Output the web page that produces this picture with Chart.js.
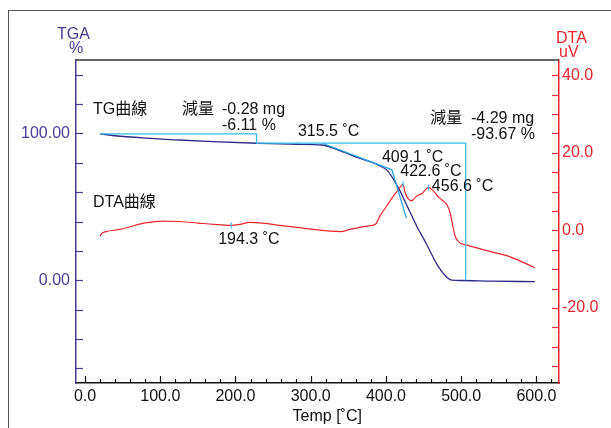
<!DOCTYPE html>
<html>
<head>
<meta charset="utf-8">
<script src="https://cdn.jsdelivr.net/npm/chart.js@4.4.0/dist/chart.umd.min.js"></script>
<style>
    html, body { margin: 0; padding: 0; background: #fff; }
    #wrap { width: 611px; height: 428px; }
</style>
</head>
<body>
<div id="wrap"><canvas id="chart" width="611" height="428"></canvas></div>
<script>
// --- DATA ---
const tgTemp = [20, 40, 80, 125, 170, 228, 280, 315, 330, 345, 365, 380, 392, 400, 406, 412, 419, 430, 441, 454, 467, 478, 488, 500, 540, 598];
const tgPct  = [99.7, 98.4, 96.8, 95.5, 94.4, 93.3, 92.6, 92.1, 89.9, 87.0, 83.1, 80.6, 77.8, 75.5, 72.0, 67.0, 60.5, 48.5, 36.8, 24.5, 11.5, 3.6, 0.0, -0.2, -0.6, -1.0];

const dtaTemp = [20, 22, 28, 46, 82, 104, 126, 150, 171, 193, 206, 219, 240, 259, 285, 304, 326, 340, 352, 375, 386, 392, 401, 410, 417, 422.6, 425.5, 434, 441, 448, 456.6, 463, 468, 474, 481, 485.5, 488, 492, 497, 508, 538, 565, 598];
const dtaUv   = [-1.5, -0.8, -0.3, 0.25, 2.0, 2.4, 2.3, 1.9, 1.55, 1.3, 1.55, 2.1, 1.8, 1.3, 0.7, 0.26, -0.2, -0.3, 0.26, 1.1, 1.6, 3.7, 6.3, 8.9, 10.6, 11.9, 9.7, 7.6, 8.9, 9.5, 11.1, 10.2, 9.0, 7.9, 6.6, 4.4, 2.0, -1.5, -3.0, -3.8, -5.4, -6.8, -9.6];

// weight loss steps and onset tangents (TGA axis)
const stepTemp = [20, 228, 228, 506, 506];
const stepPct  = [99.7, 99.7, 93.4, 93.4, 0];
const tangentTemp = [315.5, 408, 427];
const tangentPct  = [93.3, 75.2, 42.5];

// DTA peak markers
const peakTemp = [194.3, 422.6, 456.6];
const peakUv   = [1.3, 11.9, 11.1];

// ticks
const xTickValues = [0, 20, 40, 60, 80, 100, 120, 140, 160, 180, 200, 220, 240, 260, 280, 300, 320, 340, 360, 380, 400, 420, 440, 460, 480, 500, 520, 540, 560, 580, 600, 620];
const xLabelValues = [0, 100, 200, 300, 400, 500, 600];
const xLabels = ['0.0', '100.0', '200.0', '300.0', '400.0', '500.0', '600.0'];
const tgaTickValues = [-60, -40, -20, 0, 20, 40, 60, 80, 100, 120, 140];
const tgaLabelValues = [0, 100];
const tgaLabels = ['0.00', '100.00'];
const dtaTickValues = [-35, -30, -25, -20, -15, -10, -5, 0, 5, 10, 15, 20, 25, 30, 35, 40];
const dtaLabelValues = [-20, 0, 20, 40];
const dtaLabels = ['-20.0', '0.0', '20.0', '40.0'];

// text annotations (placed in temperature / TGA coordinates)
const noteText = ['TG曲線', '減量', '-0.28 mg', '-6.11 %', '315.5 ˚C', '減量', '-4.29 mg', '-93.67 %', '409.1 ˚C', '422.6 ˚C', '456.6 ˚C', 'DTA曲線', '194.3 ˚C'];
const noteTemp = [10.6, 129, 182, 182, 283, 459, 513, 513, 394.7, 419, 461, 10.6, 177];
const notePct  = [116, 116, 116, 105, 101.4, 109.9, 109.9, 99, 83.3, 73.8, 63.5, 52.6, 27.4];

// --- STYLE ---
const FONT = "'Liberation Sans', Arial, 'Noto Sans CJK TC', sans-serif";
const FONT_SIZE = 16;
const PURPLE = '#4b3c93';
const NAVY = '#2f2a88';
const RED = '#e8262e';
const CYAN = '#3bbced';
const BLUE = '#2aa3e6';

const toPoints = (xs, ys) => xs.map((x, i) => ({ x, y: ys[i] }));

function setTicks(values) {
    return scale => { scale.ticks = values.map(v => ({ value: v })); };
}

function labelFor(values, labels) {
    return v => {
        const i = values.indexOf(v);
        return i >= 0 ? labels[i] : '';
    };
}

const decor = {
    id: 'decor',
    afterDraw(chart) {
        const ctx = chart.ctx;
        const area = chart.chartArea;
        const x = chart.scales.x, y = chart.scales.y, y2 = chart.scales.y2;
        ctx.save();

        // outer frame (cut off by the picture)
        ctx.strokeStyle = '#555';
        ctx.lineWidth = 1;
        ctx.strokeRect(8.5, 10.5, 700, 500);

        // top border of plot
        ctx.strokeStyle = '#333';
        ctx.lineWidth = 1.5;
        ctx.beginPath();
        ctx.moveTo(area.left, area.top);
        ctx.lineTo(area.right, area.top);
        ctx.stroke();

        // inward tick marks
        ctx.lineWidth = 1.2;
        ctx.strokeStyle = '#111';
        x.ticks.forEach(t => {
            const px = Math.round(x.getPixelForValue(t.value)) + 0.5;
            const len = t.value % 100 === 0 ? 7 : 4;
            ctx.beginPath();
            ctx.moveTo(px, area.bottom);
            ctx.lineTo(px, area.bottom - len);
            ctx.stroke();
        });
        ctx.strokeStyle = PURPLE;
        y.ticks.forEach(t => {
            const py = Math.round(y.getPixelForValue(t.value)) + 0.5;
            ctx.beginPath();
            ctx.moveTo(area.left, py);
            ctx.lineTo(area.left + 7, py);
            ctx.stroke();
        });
        ctx.strokeStyle = RED;
        y2.ticks.forEach(t => {
            const py = Math.round(y2.getPixelForValue(t.value)) + 0.5;
            ctx.beginPath();
            ctx.moveTo(area.right, py);
            ctx.lineTo(area.right - 7, py);
            ctx.stroke();
        });

        // DTA peak markers
        ctx.strokeStyle = CYAN;
        ctx.lineWidth = 1.2;
        peakTemp.forEach((t, i) => {
            const px = x.getPixelForValue(t);
            const py = y2.getPixelForValue(peakUv[i]);
            ctx.beginPath();
            ctx.moveTo(px, py - 3);
            ctx.lineTo(px, py + 3);
            ctx.stroke();
        });

        // axis titles
        ctx.font = FONT_SIZE + 'px ' + FONT;
        ctx.textBaseline = 'middle';
        ctx.textAlign = 'center';
        ctx.fillStyle = PURPLE;
        ctx.fillText('TGA', area.left - 2.5, 35);
        ctx.fillText('%', area.left, 49);
        ctx.fillStyle = RED;
        ctx.textAlign = 'left';
        ctx.fillText('DTA', area.right - 3, 38.5);
        ctx.fillText('uV', area.right, 52.5);
        ctx.fillStyle = '#111';
        ctx.textAlign = 'center';
        ctx.fillText('Temp [˚C]', x.getPixelForValue(322), 417);

        // annotations
        ctx.textAlign = 'left';
        noteText.forEach((s, i) => {
            ctx.fillText(s, x.getPixelForValue(noteTemp[i]), y.getPixelForValue(notePct[i]));
        });

        ctx.restore();
    }
};

new Chart(document.getElementById('chart'), {
    type: 'line',
    data: {
        datasets: [
            { data: toPoints(stepTemp, stepPct), yAxisID: 'y', borderColor: CYAN, borderWidth: 1.3, tension: 0 },
            { data: toPoints(tangentTemp, tangentPct), yAxisID: 'y', borderColor: BLUE, borderWidth: 1.3, tension: 0 },
            { data: toPoints(dtaTemp, dtaUv), yAxisID: 'y2', borderColor: RED, borderWidth: 1.2, cubicInterpolationMode: 'monotone' },
            { data: toPoints(tgTemp, tgPct), yAxisID: 'y', borderColor: NAVY, borderWidth: 1.3, cubicInterpolationMode: 'monotone' }
        ]
    },
    options: {
        responsive: false,
        animation: false,
        events: [],
        layout: { padding: { top: 60, left: 0, right: 0, bottom: 0 } },
        elements: { point: { radius: 0 } },
        plugins: { legend: { display: false }, tooltip: { enabled: false } },
        scales: {
            x: {
                type: 'linear', position: 'bottom', min: -12, max: 630,
                afterFit: s => { s.height = 45; },
                afterBuildTicks: setTicks(xTickValues),
                grid: { drawOnChartArea: false, drawTicks: false },
                border: { color: '#111', width: 1.5 },
                ticks: {
                    autoSkip: false, maxRotation: 0, padding: 4, color: '#111',
                    font: { family: FONT, size: FONT_SIZE },
                    callback: labelFor(xLabelValues, xLabels)
                }
            },
            y: {
                type: 'linear', position: 'left', min: -70, max: 150,
                afterFit: s => { s.width = 76; },
                afterBuildTicks: setTicks(tgaTickValues),
                grid: { drawOnChartArea: false, drawTicks: false },
                border: { color: PURPLE, width: 1.5 },
                ticks: {
                    autoSkip: false, padding: 6, color: PURPLE,
                    font: { family: FONT, size: FONT_SIZE },
                    callback: labelFor(tgaLabelValues, tgaLabels)
                }
            },
            y2: {
                type: 'linear', position: 'right', min: -39.3, max: 43.9,
                afterFit: s => { s.width = 52; },
                afterBuildTicks: setTicks(dtaTickValues),
                grid: { drawOnChartArea: false, drawTicks: false },
                border: { color: RED, width: 1.5 },
                ticks: {
                    autoSkip: false, padding: 3, color: RED,
                    font: { family: FONT, size: FONT_SIZE },
                    callback: labelFor(dtaLabelValues, dtaLabels)
                }
            }
        }
    },
    plugins: [decor]
});
</script>
</body>
</html>
